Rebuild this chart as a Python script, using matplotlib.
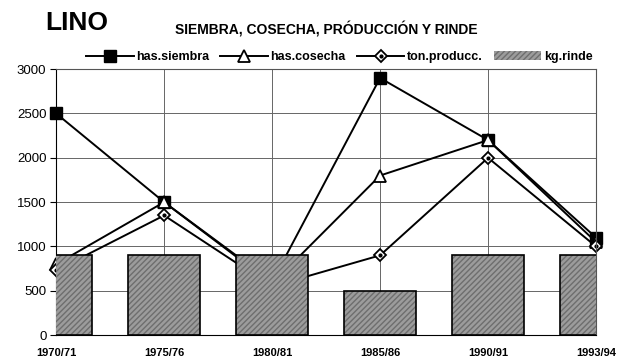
import numpy as np
import matplotlib
matplotlib.use('Agg')
import matplotlib.pyplot as plt
from matplotlib.lines import Line2D
from matplotlib.patches import Patch

plt.rcParams['font.family'] = ['Liberation Sans', 'DejaVu Sans']

# data
campanas = ['1970/71', '1975/76', '1980/81', '1985/86', '1990/91', '1993/94']
has_siembra = [2500, 1500, 600, 2900, 2200, 1100]
has_cosecha = [800, 1500, 580, 1800, 2200, 1050]
ton_producc = [730, 1350, 550, 900, 2000, 1000]
kg_rinde = [900, 900, 900, 500, 900, 900]

x = np.arange(len(campanas))

fig = plt.figure(figsize=(6.17, 3.6), dpi=100)
ax = fig.add_axes([0.091, 0.069, 0.875, 0.739])

# lines first, bars on top (as in the original the bars hide the lines)
ax.plot(x, has_siembra, color='black', lw=1.4, marker='s', ms=9,
        mfc='black', mec='black', zorder=2, clip_on=False)
ax.plot(x, has_cosecha, color='black', lw=1.4, marker='^', ms=9,
        mfc='white', mec='black', mew=1.3, zorder=2, clip_on=False)
ax.plot(x, ton_producc, color='black', lw=1.4, marker='D', ms=6,
        mfc='white', mec='black', mew=1.3, zorder=2, clip_on=False)
ax.plot(x, ton_producc, ls='none', marker='o', ms=2, color='black',
        zorder=2, clip_on=False)

ax.bar(x, kg_rinde, width=0.67, color='#9c9c9c', edgecolor='#6e6e6e',
       hatch='//////', lw=0, zorder=3)
ax.bar(x, kg_rinde, width=0.67, fill=False, edgecolor='black', lw=1.2, zorder=4)

ax.set_xlim(0, 5)
ax.set_ylim(0, 3000)
ax.set_yticks(range(0, 3001, 500))
ax.set_xticks(x)
ax.set_xticklabels(campanas, fontweight='bold', fontsize=8)
ax.tick_params(axis='x', length=0, pad=9)
ax.tick_params(axis='y', labelsize=9.5, length=4, direction='out', pad=3)
ax.grid(True, color='#666666', lw=0.7)
ax.set_axisbelow(True)
for s in ax.spines.values():
    s.set_color('#555555')
    s.set_linewidth(0.8)
ax.spines['left'].set_color('black')
ax.spines['bottom'].set_color('black')

fig.text(0.073, 0.935, 'LINO', fontsize=19, fontweight='bold', va='center')
fig.text(0.283, 0.918, 'SIEMBRA, COSECHA, PRÓDUCCIÓN Y RINDE', fontsize=10,
         fontweight='bold', va='center')

h_siem = Line2D([], [], color='black', lw=1.4, marker='s', ms=9, mfc='black')
h_cos = Line2D([], [], color='black', lw=1.4, marker='^', ms=9, mfc='white', mew=1.3)
h_prod_d = Line2D([], [], color='black', lw=1.4, marker='D', ms=6, mfc='white', mew=1.3)
h_prod_o = Line2D([], [], ls='none', marker='o', ms=2, color='black')
h_rinde = Patch(facecolor='#9c9c9c', edgecolor='#6e6e6e', hatch='//////', lw=0)
fig.legend([h_siem, h_cos, (h_prod_d, h_prod_o), h_rinde],
           ['has.siembra', 'has.cosecha', 'ton.producc.', 'kg.rinde'],
           loc='center', bbox_to_anchor=(0.55, 0.842), ncol=4, frameon=False,
           handlelength=3.8, handletextpad=0.2, columnspacing=0.9,
           prop={'weight': 'bold', 'size': 9})

fig.savefig('out.png', dpi=100)
